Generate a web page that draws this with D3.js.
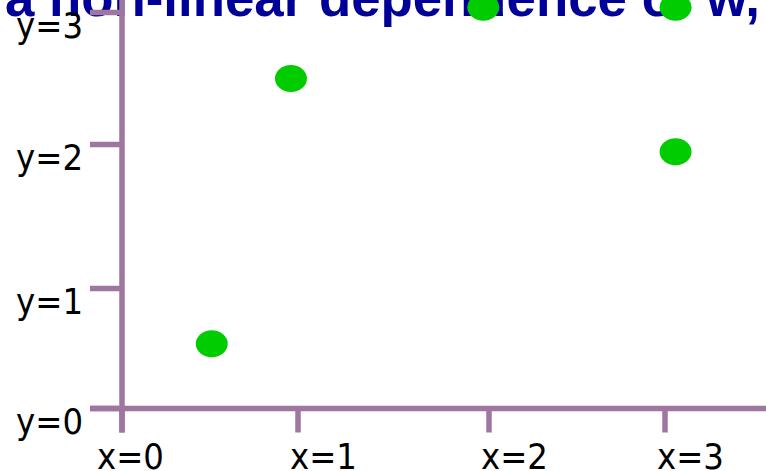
<!DOCTYPE html>
<html>
<head>
<meta charset="utf-8">
<script src="https://cdn.jsdelivr.net/npm/d3@7/dist/d3.min.js"></script>
<style>
  html, body { margin: 0; padding: 0; background: #fff; }
  svg { display: block; }
</style>
</head>
<body>
<svg id="chart" width="766" height="471"></svg>
<script>
// ---- data ----
const titleText = "a non-linear dependence of w,";
const xTickValues = [0, 1, 2, 3];
const xTickLabels = ["x=0", "x=1", "x=2", "x=3"];
const yTickValues = [0, 1, 2, 3];
const yTickLabels = ["y=0", "y=1", "y=2", "y=3"];
const pointsX = [0.51, 0.96, 1.97, 3.06, 3.06];
const pointsY = [0.54, 2.5, 3.04, 3.04, 1.95];

// ---- layout / style ----
const W = 766, H = 471;
const axisColor = "#9e76a0";
const axisWidth = 5.5;
const green = "#00cc00";
const svg = d3.select("#chart");

// piecewise-linear scales (the reference axes are unevenly spaced)
const x = d3.scaleLinear().domain(xTickValues).range([122, 298, 489, 665]);
const y = d3.scaleLinear().domain(yTickValues).range([408.5, 288.5, 144.5, 12.5]);

// title (cut off at the top, as in the reference)
svg.append("text")
  .attr("x", 5).attr("y", 16)
  .attr("font-family", "'Liberation Sans', Arial, sans-serif")
  .attr("font-weight", "bold")
  .attr("font-size", 52.8)
  .attr("fill", "#000099")
  .text(titleText);

const axes = svg.append("g")
  .attr("stroke", axisColor)
  .attr("stroke-width", axisWidth)
  .attr("fill", "none");

// y axis line
axes.append("line")
  .attr("x1", x(0)).attr("x2", x(0))
  .attr("y1", -10).attr("y2", y(0) + 24);
// x axis line
axes.append("line")
  .attr("x1", x(0) - 32).attr("x2", W + 10)
  .attr("y1", y(0)).attr("y2", y(0));
// y ticks
axes.selectAll("line.yt").data(yTickValues).join("line")
  .attr("class", "yt")
  .attr("x1", x(0) - 32).attr("x2", x(0))
  .attr("y1", d => y(d)).attr("y2", d => y(d));
// x ticks
axes.selectAll("line.xt").data(xTickValues).join("line")
  .attr("class", "xt")
  .attr("x1", d => x(d)).attr("x2", d => x(d))
  .attr("y1", y(0)).attr("y2", y(0) + 24);

const labelFont = "'DejaVu Sans Condensed', 'DejaVu Sans', Verdana, sans-serif";
const labelSize = 36;
// y tick labels
svg.selectAll("text.yl").data(yTickValues).join("text")
  .attr("class", "yl")
  .attr("x", x(0) - 39)
  .attr("y", d => y(d) + 25)
  .attr("text-anchor", "end")
  .attr("font-family", labelFont)
  .attr("font-stretch", "condensed")
  .attr("font-size", labelSize)
  .attr("fill", "#000")
  .text((d, i) => yTickLabels[i]);
// x tick labels
svg.selectAll("text.xl").data(xTickValues).join("text")
  .attr("class", "xl")
  .attr("x", d => x(d) + (d === 0 ? -25 : -8))
  .attr("y", y(0) + 60)
  .attr("text-anchor", "start")
  .attr("font-family", labelFont)
  .attr("font-stretch", "condensed")
  .attr("font-size", labelSize)
  .attr("fill", "#000")
  .text((d, i) => xTickLabels[i]);

// points
svg.selectAll("ellipse.pt").data(pointsX.map((v, i) => [v, pointsY[i]])).join("ellipse")
  .attr("class", "pt")
  .attr("cx", d => x(d[0]))
  .attr("cy", d => y(d[1]))
  .attr("rx", 16)
  .attr("ry", 13.5)
  .attr("fill", green);
</script>
</body>
</html>
